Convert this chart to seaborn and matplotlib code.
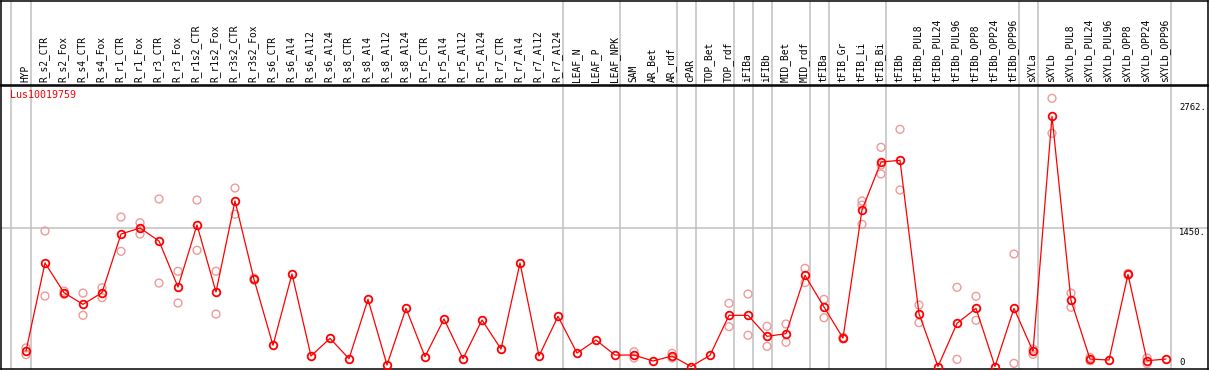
import numpy as np
import pandas as pd
import matplotlib
matplotlib.use('Agg')
import matplotlib.pyplot as plt
import seaborn as sns

# ── data ────────────────────────────────────────────────────────────
samples = ['HYP', 'R_s2_CTR', 'R_s2_Fox', 'R_s4_CTR', 'R_s4_Fox', 'R_r1_CTR', 'R_r1_Fox',
           'R_r3_CTR', 'R_r3_Fox', 'R_r1s2_CTR', 'R_r1s2_Fox', 'R_r3s2_CTR', 'R_r3s2_Fox',
           'R_s6_CTR', 'R_s6_Al4', 'R_s6_Al12', 'R_s6_Al24', 'R_s8_CTR', 'R_s8_Al4',
           'R_s8_Al12', 'R_s8_Al24', 'R_r5_CTR', 'R_r5_Al4', 'R_r5_Al12', 'R_r5_Al24',
           'R_r7_CTR', 'R_r7_Al4', 'R_r7_Al12', 'R_r7_Al24', 'LEAF_N', 'LEAF_P', 'LEAF_NPK',
           'SAM', 'AR_Bet', 'AR_rdf', 'cPAR', 'TOP_Bet', 'TOP_rdf', 'iFIBa', 'iFIBb',
           'MID_Bet', 'MID_rdf', 'tFIBa', 'tFIB_Gr', 'tFIB_Li', 'tFIB_Bi', 'tFIBb',
           'tFIBb_PUL8', 'tFIBb_PUL24', 'tFIBb_PUL96', 'tFIBb_OPP8', 'tFIBb_OPP24',
           'tFIBb_OPP96', 'sXYLa', 'sXYLb', 'sXYLb_PUL8', 'sXYLb_PUL24', 'sXYLb_PUL96',
           'sXYLb_OPP8', 'sXYLb_OPP24', 'sXYLb_OPP96']

mean_expr = [162, 1084, 773, 651, 773, 1387, 1450, 1314, 832, 1482, 780, 1733, 913,
             222, 969, 110, 295, 82, 703, 16, 609, 103, 497, 82, 487, 183, 1084, 110, 525,
             141, 277, 120, 120, 58, 110, 0, 117, 536, 536, 316, 344, 955, 623, 298,
             1639, 2141, 2159, 553, 0, 452, 609, 0, 609, 159, 2620, 693, 78, 68, 965, 61, 78]

nan = np.nan
rep_a = [195, 1419, 790, 769, 825, 1565, 1506, 1754, 997, 1743, 997, 1869, 925,
         nan, nan, nan, nan, nan, nan, nan, nan, nan, nan, nan, nan, nan, nan, nan, nan,
         nan, nan, nan, 155, nan, 138, nan, nan, 662, 759, 421, 445, 1028, 703, 305,
         1733, 2295, 2484, 644, nan, 829, 735, nan, 1178, 183, 2808, 769, 95, nan, 975, 90, nan]
rep_b = [125, 738, 756, 536, 721, 1206, 1387, 874, 665, 1217, 550, 1594, 905,
         nan, nan, nan, nan, nan, nan, nan, nan, nan, nan, nan, nan, nan, nan, nan, nan,
         nan, nan, nan, 89, nan, 89, nan, nan, 417, 327, 211, 253, 878, 511, 290,
         1489, 2016, 1848, 459, nan, 75, 484, nan, 33, 127, 2442, 620, 60, nan, 955, 30, nan]
# third replicate only seen for a couple of tFIB samples
rep_c = {'tFIB_Li': 1690, 'tFIB_Bi': 2110}

# columns after which a grey group separator is drawn
group_ends = ['HYP', 'R_r7_Al24', 'LEAF_NPK', 'AR_rdf', 'cPAR', 'TOP_rdf', 'iFIBa',
              'iFIBb', 'MID_rdf', 'tFIBa', 'tFIB_Bi', 'tFIBb_OPP96', 'sXYLa', 'sXYLb_OPP96']

gene = 'Lus10019759'
tick_vals = [2762, 1450, 0]

# ── frames ───────────────────────────────────────────────────────────
n = len(samples)
idx = np.arange(n)
means = pd.DataFrame({'pos': idx, 'expr': mean_expr})
reps = pd.DataFrame({'pos': np.concatenate([idx, idx]),
                     'expr': np.concatenate([rep_a, rep_b])})
extra = pd.DataFrame({'pos': [samples.index(s) for s in rep_c],
                      'expr': list(rep_c.values())})
reps = pd.concat([reps, extra]).dropna()

# ── figure ───────────────────────────────────────────────────────────
sns.set_style('white')
plt.rcParams['font.family'] = ['DejaVu Sans Mono', 'DejaVu Sans']

W, H = 1209, 370
fig = plt.figure(figsize=(W / 100, H / 100), dpi=100)

# pixel geometry: column i sits at x = 26 + 19 * i
x0, step = 26, 19
xlim = ((1 - x0) / step, (1208 - x0) / step)

head = fig.add_axes([1 / W, (H - 85) / H, 1207 / W, 84.5 / H])
ax = fig.add_axes([1 / W, 1 / H, 1207 / W, (369 - 86) / H])

grey = '#c0c0c0'
seps = [-0.8] + [samples.index(s) + 0.25 for s in group_ends]

for a in (head, ax):
    a.set_xlim(*xlim)
    a.set_xticks([])
    a.set_yticks([])
    for sp in a.spines.values():
        sp.set_color('black')
        sp.set_linewidth(1.1)
    for s in seps:
        a.axvline(s, color=grey, lw=1.1, zorder=0)

head.set_ylim(0, 1)
for i, name in enumerate(samples):
    head.text(i - 0.05, 0.03, name, rotation=90, ha='center', va='bottom',
              fontsize=6.9, color='black')

# main plot
ax.set_ylim(-26, 2937)
ax.axhline(tick_vals[1], color=grey, lw=1.1, zorder=0)

sns.scatterplot(data=reps, x='pos', y='expr', ax=ax, marker='o', s=32,
                facecolor='none', edgecolor='#ee9a9a', linewidth=1.0, zorder=2)
sns.lineplot(data=means, x='pos', y='expr', ax=ax, color='red', lw=0.9,
             marker='o', markersize=5.5, markerfacecolor='none',
             markeredgecolor='red', markeredgewidth=1.3, zorder=3)
ax.set_xlabel('')
ax.set_ylabel('')
ax.set_xlim(*xlim)

ax.text(9 / 1207, 0.985, gene, transform=ax.transAxes, color='red',
        fontsize=7.2, ha='left', va='top')

lab_x = (1179 - x0) / step
for v in tick_vals:
    ax.text(lab_x, v, f'{v}.' if v else '0', fontsize=6.4, color='black',
            ha='left', va='bottom' if v == 0 else 'top')

fig.savefig('out.png', dpi=100)
print("Saved out.png")
